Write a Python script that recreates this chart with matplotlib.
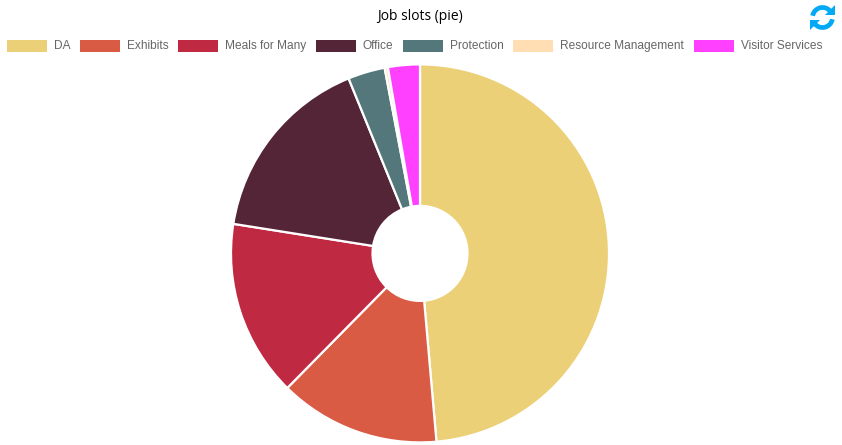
from matplotlib import pyplot as plt
from matplotlib.patches import Arc, Polygon, Rectangle

W = 842
H = 445

labels = ['DA', 'Exhibits', 'Meals for Many', 'Office', 'Protection', 'Resource Management', 'Visitor Services']
values = [175, 49.6, 54.4, 58.8, 11.4, 1, 9.8]
colors = ['#ECD078', '#D95B43', '#C02942', '#542437', '#53777A', '#FFDEB3', '#FF40FF']
legend_x = [7, 80, 178, 316, 403, 513, 694]

fig = plt.figure(figsize=(W / 100, H / 100), dpi=100)

# pie axes, placed in pixels
cx, cy, r = 420, 253.4, 189
ax = fig.add_axes([(cx - r - 2) / W, 1 - (cy + r + 2) / H, (2 * r + 4) / W, (2 * r + 4) / H])
ax.pie(values, colors=colors, startangle=90, counterclock=False, radius=1,
       wedgeprops=dict(width=1 - 47.5 / 189, edgecolor='white', linewidth=1.6))
ax.set_xlim(-191 / 189, 191 / 189)
ax.set_ylim(-191 / 189, 191 / 189)

# overlay in pixel coordinates for title, legend, icon
ov = fig.add_axes([0, 0, 1, 1], facecolor='none')
ov.set_xlim(0, W)
ov.set_ylim(H, 0)
ov.axis('off')

ov.text(420, 16.5, 'Job slots (pie)', ha='center', va='center', fontsize=10,
        family='Open Sans', color='black')

for name, col, x in zip(labels, colors, legend_x):
    ov.add_patch(Rectangle((x, 40), 40, 12, facecolor=col, edgecolor='none'))
    ov.text(x + 46.8, 45.6, name, ha='left', va='center', fontsize=8.6,
            family='Liberation Sans', color='#666666')

# refresh icon
blue = '#03A9F4'
ix, iy = 822.5, 17.5
ov.add_patch(Arc((ix, iy), 20, 20, theta1=190, theta2=325, color=blue, lw=3.4))
ov.add_patch(Arc((ix, iy), 20, 20, theta1=10, theta2=145, color=blue, lw=3.4))
ov.add_patch(Polygon([(835, 5), (835, 15), (825, 15)], color=blue, lw=0))
ov.add_patch(Polygon([(810, 30), (810, 20), (820, 20)], color=blue, lw=0))

fig.savefig('out.png', dpi=100)
